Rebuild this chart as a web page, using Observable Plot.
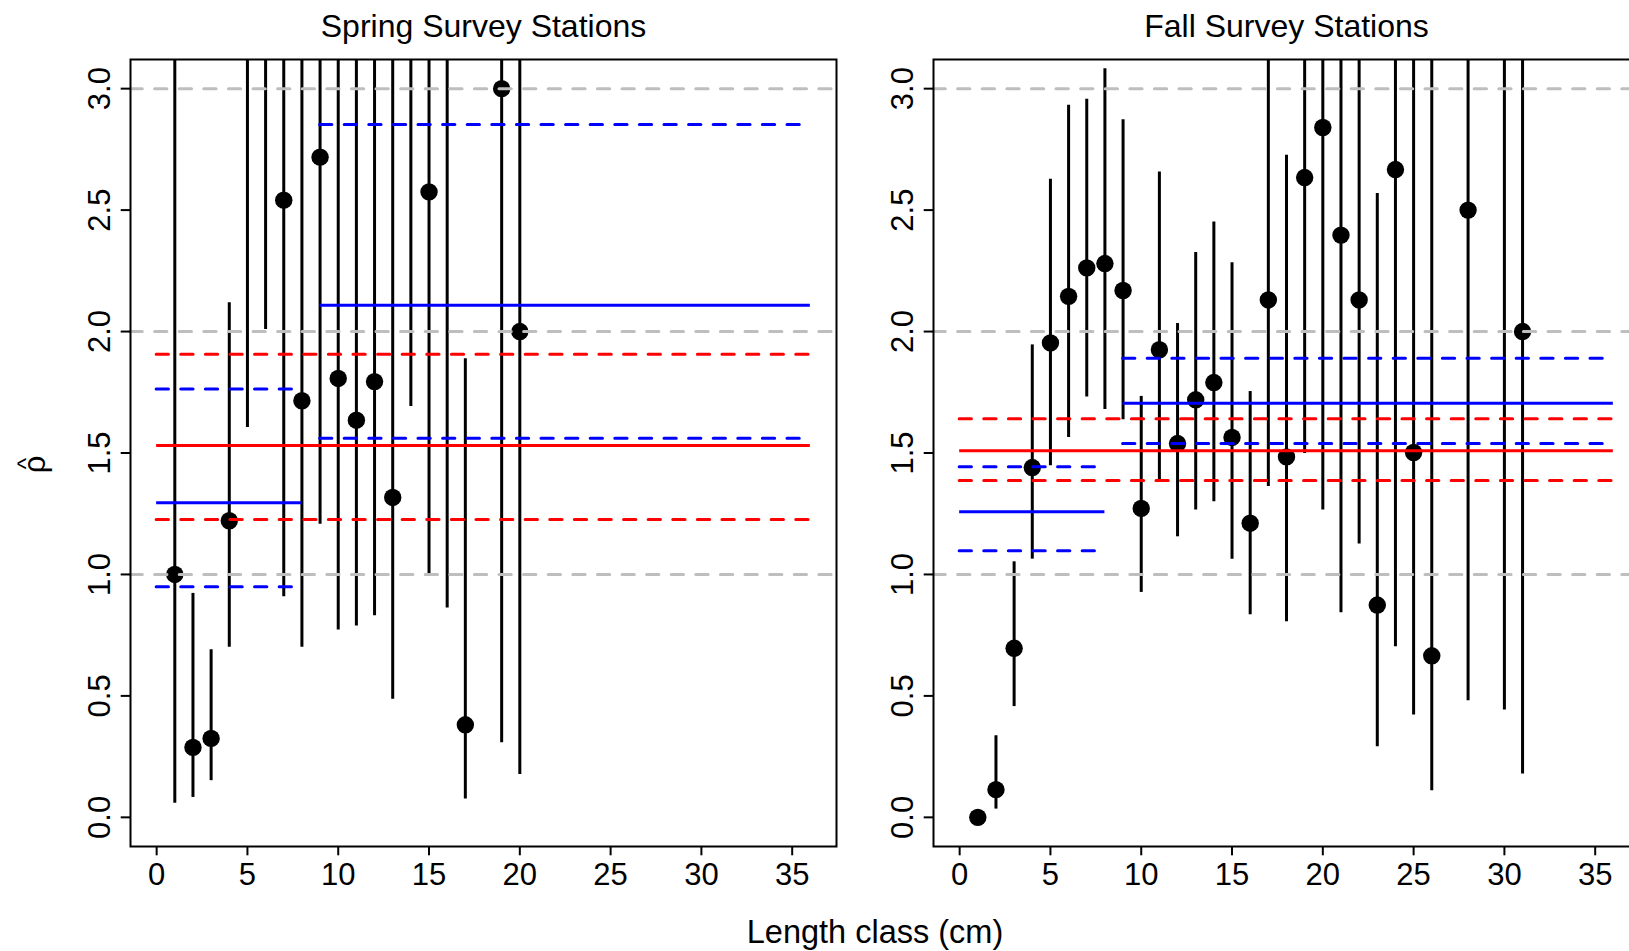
<!DOCTYPE html>
<html>
<head>
<meta charset="utf-8">
<script src="https://cdn.jsdelivr.net/npm/d3@7"></script>
<script src="https://cdn.jsdelivr.net/npm/@observablehq/plot@0.6"></script>
<style>
  html, body { margin: 0; padding: 0; overflow: hidden; background: #fff; }
  #wrap { position: relative; width: 1629px; height: 951px; overflow: hidden;
          font-family: "Liberation Sans", Arial, Helvetica, sans-serif; }
  #left { position: absolute; left: 0; top: 0; width: 860px; height: 951px; }
  #right { position: absolute; left: 860px; top: 0; width: 790px; height: 951px; }
  #left svg, #right svg { max-width: none !important; display: block; }
  #xlab { position: absolute; left: 0; width: 1750px; text-align: center; top: 916px;
          font-size: 32.5px; line-height: 32px; color: #000; white-space: nowrap; }
</style>
</head>
<body>
<div id="wrap">
  <div id="left"></div>
  <div id="right"></div>
  <div id="xlab">Length class (cm)</div>
</div>
<script>
// ---------------- data ----------------
const springTitle = "Spring Survey Stations";
const fallTitle = "Fall Survey Stations";
const xTicks = [0, 5, 10, 15, 20, 25, 30, 35];
const yTicks = [0, 0.5, 1, 1.5, 2, 2.5, 3];
const refLines = [1, 2, 3];

// Spring: length class, estimate, lower and upper CI (values above 3.12 are off-chart estimates)
const springX   = [1, 2, 3, 4, 5, 6, 7, 8, 9, 10, 11, 12, 13, 14, 15, 16, 17, 19, 20];
const springEst = [1.00, 0.288, 0.325, 1.221, 3.6, 3.5, 2.541, 1.715, 2.718, 1.807, 1.635, 1.794, 1.317, 3.4, 2.575, 3.6, 0.381, 3.00, 2.00];
const springLo  = [0.058, 0.082, 0.151, 0.700, 1.605, 2.008, 0.908, 0.700, 1.207, 0.771, 0.788, 0.830, 0.486, 1.691, 0.993, 0.862, 0.076, 0.307, 0.176];
const springHi  = [4.5, 0.922, 0.690, 2.119, 6.5, 5.5, 4.5, 4.5, 4.5, 4.5, 4.5, 4.5, 4.5, 5.0, 4.5, 5.5, 1.888, 5.5, 5.0];

// Fall
const fallX   = [1, 2, 3, 4, 5, 6, 7, 8, 9, 10, 11, 12, 13, 14, 15, 16, 17, 18, 19, 20, 21, 22, 23, 24, 25, 26, 28, 30, 31];
const fallEst = [0.00, 0.114, 0.696, 1.440, 1.953, 2.145, 2.262, 2.280, 2.169, 1.272, 1.925, 1.539, 1.719, 1.790, 1.564, 1.211, 2.130, 1.484, 2.634, 2.840, 2.397, 2.130, 0.874, 2.667, 1.502, 0.665, 2.500, 3.6, 2.00];
const fallLo  = [0.00, 0.034, 0.456, 1.063, 1.447, 1.564, 1.731, 1.679, 1.637, 0.926, 1.388, 1.155, 1.265, 1.299, 1.063, 0.834, 1.362, 0.805, 1.498, 1.265, 0.842, 1.125, 0.291, 0.702, 0.421, 0.110, 0.480, 0.442, 0.178];
const fallHi  = [0.00, 0.336, 1.052, 1.945, 2.627, 2.932, 2.956, 3.082, 2.872, 1.733, 2.657, 2.033, 2.325, 2.451, 2.283, 1.753, 4.0, 2.726, 4.2, 4.5, 4.0, 3.8, 2.568, 4.5, 4.0, 4.0, 5.0, 6.0, 5.0];

// Summary segments: overall (red) and two length groups (blue)
const segStart  = [0, 0, 9];
const segEnd    = [36, 8, 36];
const segColor  = ["#FF0000", "#0000FF", "#0000FF"];
const springSegEst = [1.531, 1.295, 2.108];
const springSegLo  = [1.226, 0.949, 1.561];
const springSegHi  = [1.907, 1.763, 2.852];
const fallSegEst   = [1.509, 1.258, 1.705];
const fallSegLo    = [1.387, 1.098, 1.539];
const fallSegHi    = [1.641, 1.443, 1.890];

// ---------------- drawing ----------------
const FONT = '"Liberation Sans", Arial, Helvetica, sans-serif';
const LW = 3;
const DASH = "12.3,12.3";

function panel({title, xs, est, lo, hi, sEst, sLo, sHi, width, marginLeft, marginRight, yLabel}) {
  const pts = xs.map((x, i) => ({x, est: est[i], lo: lo[i], hi: hi[i]}));
  const segs = segStart.map((s, i) => ({x1: s, x2: segEnd[i], color: segColor[i], est: sEst[i], lo: sLo[i], hi: sHi[i]}));
  const marks = [
    Plot.ruleX(pts.filter(d => d.hi > d.lo), {x: "x", y1: "lo", y2: "hi", stroke: "black", strokeWidth: LW, clip: true}),
    Plot.dot(pts, {x: "x", y: "est", r: 8.7, fill: "black", stroke: "none", clip: true}),
    Plot.ruleY(refLines, {y: d => d, stroke: "#BEBEBE", strokeWidth: LW, strokeDasharray: DASH, strokeLinecap: "round"}),
    Plot.ruleY(segs, {y: "est", x1: "x1", x2: "x2", stroke: "color", strokeWidth: LW, strokeLinecap: "butt"}),
    Plot.ruleY(segs, {y: "lo", x1: "x1", x2: "x2", stroke: "color", strokeWidth: LW, strokeDasharray: DASH, strokeLinecap: "round"}),
    Plot.ruleY(segs, {y: "hi", x1: "x1", x2: "x2", stroke: "color", strokeWidth: LW, strokeDasharray: DASH, strokeLinecap: "round"}),
    Plot.frame({stroke: "black", strokeWidth: 2}),
    Plot.axisX({ticks: xTicks, tickSize: 9.3, tickPadding: 7, tickFormat: d => String(d), strokeWidth: 2, label: null, fontSize: 31}),
    Plot.axisY({ticks: yTicks, tickSize: 9.3, tickPadding: 11.3, tickRotate: -90, tickFormat: d3.format(".1f"), strokeWidth: 2, label: null, fontSize: 31}),
    Plot.text([title], {frameAnchor: "top", dy: -22.3, lineAnchor: "bottom", textAnchor: "middle", fontSize: 32, fill: "black"})
  ];
  if (yLabel) {
    marks.push(Plot.text([yLabel[0]], {frameAnchor: "left", rotate: -90, dx: -86, dy: 11.5, lineAnchor: "bottom", textAnchor: "middle", fontSize: 31, fill: "black"}));
    marks.push(Plot.text([yLabel[1]], {frameAnchor: "left", rotate: -90, dx: -96.5, dy: 10.5, lineAnchor: "bottom", textAnchor: "middle", fontSize: 24, fill: "black"}));
  }
  return Plot.plot({
    width, height: 951,
    marginTop: 59, marginBottom: 105, marginLeft, marginRight,
    x: {domain: [-1.44, 37.44]},
    y: {domain: [-0.12, 3.12]},
    style: {fontFamily: FONT, fontSize: "31px", color: "black", background: "white", overflow: "visible"},
    marks
  });
}

// y-axis label: rho with a hat above it
const yLabelParts = ["\u03C1", "^"];

document.getElementById("left").appendChild(panel({
  title: springTitle, xs: springX, est: springEst, lo: springLo, hi: springHi,
  sEst: springSegEst, sLo: springSegLo, sHi: springSegHi,
  width: 860, marginLeft: 130, marginRight: 24, yLabel: yLabelParts
}));
document.getElementById("right").appendChild(panel({
  title: fallTitle, xs: fallX, est: fallEst, lo: fallLo, hi: fallHi,
  sEst: fallSegEst, sLo: fallSegLo, sHi: fallSegHi,
  width: 790, marginLeft: 73, marginRight: 11
}));
</script>
</body>
</html>
